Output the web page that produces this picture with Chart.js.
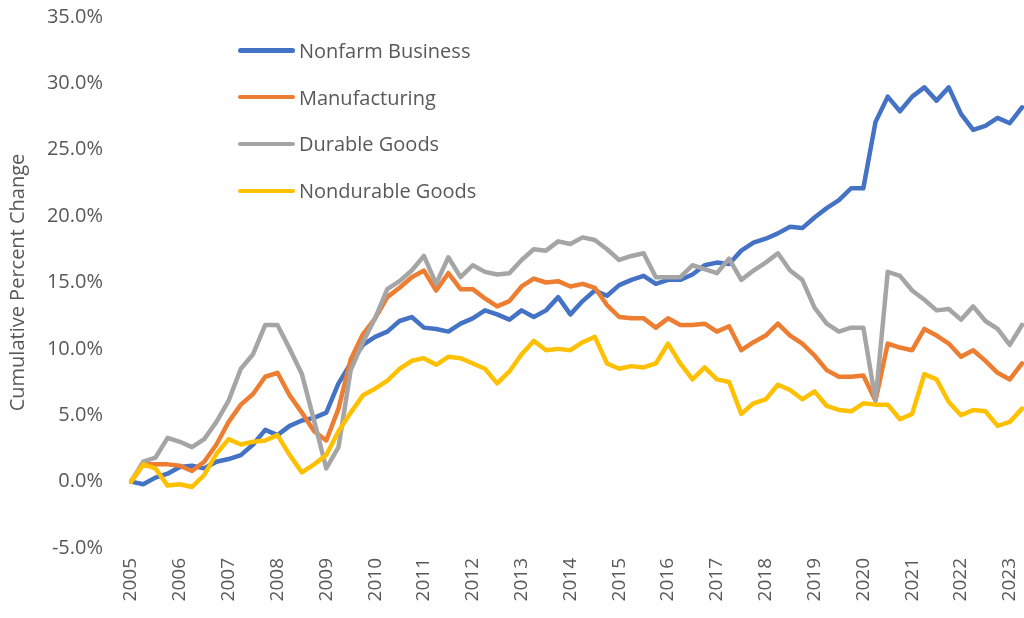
<!DOCTYPE html>
<html>
<head>
<meta charset="utf-8">
<script src="https://cdn.jsdelivr.net/npm/chart.js@4"></script>
<style>
    body { margin: 0; background: #fff; }
    #wrap { position: relative; width: 1024px; height: 618px; }
    #legend { position: absolute; left: 238px; top: 27px; font-family: "Open Sans", sans-serif; font-size: 20px; color: #595959; }
    #legend .row { display: flex; align-items: center; height: 46.8px; }
    #legend .swatch { width: 57px; height: 4.5px; border-radius: 3px; margin-right: 4px; }
</style>
</head>
<body>
<div id="wrap">
    <canvas id="chart-body" width="1024" height="618"></canvas>
    <div id="legend"></div>
</div>
<script>
const years = [2005, 2006, 2007, 2008, 2009, 2010, 2011, 2012, 2013, 2014,
    2015, 2016, 2017, 2018, 2019, 2020, 2021, 2022, 2023];

const seriesNames = ['Nonfarm Business', 'Manufacturing', 'Durable Goods', 'Nondurable Goods'];
const seriesColors = ['#4472C4', '#ED7D31', '#A5A5A5', '#FFC000'];

// cumulative percent change, quarterly 2005 Q1 .. 2023 Q2
const nonfarm = [
    0.0, -0.2, 0.3, 0.6, 1.1, 1.2, 1.0, 1.5, 1.7, 2.0, 2.8, 3.9, 3.5, 4.2, 4.6, 4.8,
    5.2, 7.4, 8.9, 10.3, 10.9, 11.3, 12.1, 12.4, 11.6, 11.5, 11.3, 11.9, 12.3, 12.9, 12.6, 12.2,
    12.9, 12.4, 12.9, 13.9, 12.6, 13.6, 14.4, 14.0, 14.8, 15.2, 15.5, 14.9, 15.2, 15.2, 15.6, 16.3,
    16.5, 16.4, 17.4, 18.0, 18.3, 18.7, 19.2, 19.1, 19.9, 20.6, 21.2, 22.1, 22.1, 27.1, 29.0, 27.9,
    29.0, 29.7, 28.7, 29.7, 27.7, 26.5, 26.8, 27.4, 27.0, 28.2
];
const manufacturing = [
    0.0, 1.3, 1.3, 1.3, 1.2, 0.8, 1.5, 2.8, 4.5, 5.8, 6.6, 7.9, 8.2, 6.5, 5.2, 3.8,
    3.1, 5.5, 9.2, 11.1, 12.3, 13.9, 14.6, 15.4, 15.9, 14.4, 15.7, 14.5, 14.5, 13.8, 13.2, 13.6,
    14.7, 15.3, 15.0, 15.1, 14.7, 14.9, 14.6, 13.3, 12.4, 12.3, 12.3, 11.6, 12.3, 11.8, 11.8, 11.9,
    11.3, 11.7, 9.9, 10.5, 11.0, 11.9, 11.0, 10.4, 9.5, 8.4, 7.9, 7.9, 8.0, 6.1, 10.4, 10.1,
    9.9, 11.5, 11.0, 10.4, 9.4, 9.9, 9.1, 8.2, 7.7, 8.9
];
const durable = [
    0.0, 1.5, 1.8, 3.3, 3.0, 2.6, 3.2, 4.5, 6.1, 8.5, 9.6, 11.8, 11.8, 10.0, 8.1, 4.6,
    1.0, 2.6, 8.4, 10.5, 12.3, 14.5, 15.1, 15.9, 17.0, 14.9, 16.9, 15.4, 16.3, 15.8, 15.6, 15.7,
    16.7, 17.5, 17.4, 18.1, 17.9, 18.4, 18.2, 17.5, 16.7, 17.0, 17.2, 15.4, 15.4, 15.4, 16.3, 16.0,
    15.7, 16.8, 15.2, 15.9, 16.5, 17.2, 15.9, 15.2, 13.1, 11.9, 11.3, 11.6, 11.6, 6.1, 15.8, 15.5,
    14.4, 13.7, 12.9, 13.0, 12.2, 13.2, 12.1, 11.5, 10.3, 11.8
];
const nondurable = [
    0.0, 1.3, 1.0, -0.3, -0.2, -0.4, 0.5, 2.1, 3.2, 2.8, 3.0, 3.1, 3.5, 2.0, 0.7, 1.3,
    2.0, 3.8, 5.2, 6.5, 7.0, 7.6, 8.5, 9.1, 9.3, 8.8, 9.4, 9.3, 8.9, 8.5, 7.4, 8.3,
    9.6, 10.6, 9.9, 10.0, 9.9, 10.5, 10.9, 8.9, 8.5, 8.7, 8.6, 8.9, 10.4, 8.9, 7.7, 8.6,
    7.7, 7.5, 5.1, 5.9, 6.2, 7.3, 6.9, 6.2, 6.8, 5.7, 5.4, 5.3, 5.9, 5.8, 5.8, 4.7,
    5.1, 8.1, 7.7, 6.0, 5.0, 5.4, 5.3, 4.2, 4.5, 5.5
];

const quarters = years.flatMap(y => ['Q1', 'Q2', 'Q3', 'Q4'].map(q => y + ' ' + q)).slice(0, nonfarm.length);
const seriesValues = [nonfarm, manufacturing, durable, nondurable];

const textColor = '#595959';
const fontFamily = '"Open Sans", sans-serif';

function noScalePadding(scale) {
    scale.paddingTop = 0;
    scale.paddingBottom = 0;
    scale.paddingLeft = 0;
    scale.paddingRight = 0;
}

const ctx = document.getElementById('chart-body').getContext('2d');
const chart = new Chart(ctx, {
    type: 'line',
    data: {
        labels: quarters,
        datasets: seriesNames.map((name, i) => ({
            label: name,
            data: seriesValues[i],
            borderColor: seriesColors[i],
            backgroundColor: seriesColors[i],
            borderWidth: 4.5,
            borderJoinStyle: 'round',
            borderCapStyle: 'round',
            pointRadius: 0,
            tension: 0,
            order: seriesNames.length - i
        }))
    },
    options: {
        responsive: false,
        devicePixelRatio: 1,
        animation: false,
        layout: { padding: { top: 17, right: 2, left: 0, bottom: 0 } },
        plugins: {
            legend: { display: false },
            tooltip: { enabled: false }
        },
        scales: {
            x: {
                grid: { display: false, drawTicks: false },
                border: { display: false },
                afterFit: scale => { scale.height = 70; noScalePadding(scale); },
                ticks: {
                    autoSkip: false,
                    minRotation: 90,
                    maxRotation: 90,
                    padding: 10,
                    color: textColor,
                    font: { family: fontFamily, size: 19 },
                    callback: (v, idx) => idx % 4 === 0 ? String(years[idx / 4]) : ''
                }
            },
            y: {
                min: -5,
                max: 35,
                grid: { display: false, drawTicks: false },
                border: { display: false },
                afterFit: scale => { scale.width = 131; noScalePadding(scale); },
                title: {
                    display: true,
                    text: 'Cumulative Percent Change',
                    color: textColor,
                    font: { family: fontFamily, size: 20 },
                    padding: { top: 6, bottom: 0 }
                },
                ticks: {
                    stepSize: 5,
                    padding: 28,
                    color: textColor,
                    font: { family: fontFamily, size: 20 },
                    callback: v => v.toFixed(1) + '%'
                }
            }
        }
    }
});

const legend = document.getElementById('legend');
chart.data.datasets.forEach(ds => {
    const row = document.createElement('div');
    row.className = 'row';
    const sw = document.createElement('span');
    sw.className = 'swatch';
    sw.style.background = ds.borderColor;
    const label = document.createElement('span');
    label.textContent = ds.label;
    row.appendChild(sw);
    row.appendChild(label);
    legend.appendChild(row);
});
</script>
</body>
</html>
